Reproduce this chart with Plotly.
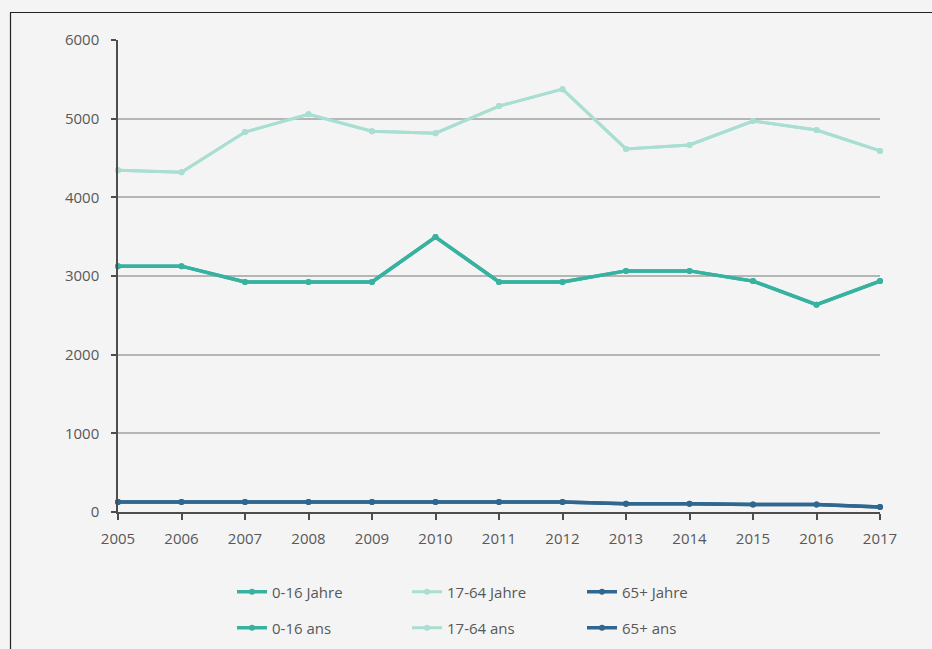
import plotly.graph_objects as go

years = list(range(2005, 2018))

age_0_16 = [3125, 3125, 2925, 2925, 2925, 3495, 2925, 2925, 3065, 3065, 2935, 2635, 2935]
age_17_64 = [4345, 4320, 4830, 5055, 4840, 4815, 5160, 5375, 4615, 4665, 4970, 4855, 4590]
age_65_plus = [128, 128, 128, 128, 128, 128, 128, 128, 106, 106, 94, 94, 64]

y_ticks = [0, 1000, 2000, 3000, 4000, 5000, 6000]

series = [
    ("0-16 Jahre", age_0_16, "#38b2a0", 3.5, "legend"),
    ("17-64 Jahre", age_17_64, "#a9ded2", 3, "legend"),
    ("65+ Jahre", age_65_plus, "#2f6790", 3.5, "legend"),
    ("0-16 ans", age_0_16, "#38b2a0", 3.5, "legend2"),
    ("17-64 ans", age_17_64, "#a9ded2", 3, "legend2"),
    ("65+ ans", age_65_plus, "#2f6790", 3.5, "legend2"),
]

fig = go.Figure()
for name, vals, color, width, leg in series:
    fig.add_trace(go.Scatter(
        x=years, y=vals, name=name, mode="lines+markers",
        line=dict(color=color, width=width),
        marker=dict(color=color, size=6),
        cliponaxis=False, legend=leg,
    ))

W, H = 932, 649
ml, mr, mt, mb = 118, 52, 40, 137
pw, ph = W - ml - mr, H - mt - mb


def px_x(p):
    return (p - ml) / pw


def px_y(p):
    return (H - mb - p) / ph


text_color = "#585858"
font = dict(family="Open Sans, Noto Sans, sans-serif", size=15, color=text_color)

legend_common = dict(
    orientation="h", xref="container", yref="container",
    xanchor="left", x=232 / W, yanchor="middle",
    entrywidth=130, entrywidthmode="pixels", bgcolor="rgba(0,0,0,0)",
    font=dict(family="Open Sans, Noto Sans, sans-serif", size=15, color=text_color),
    itemclick=False,
)

fig.update_layout(
    width=W, height=H,
    margin=dict(l=ml, r=mr, t=mt, b=mb, autoexpand=False),
    paper_bgcolor="#f4f4f4", plot_bgcolor="#f4f4f4",
    font=font,
    showlegend=True,
    legend=dict(**legend_common, y=1 - 592 / H),
    legend2=dict(**legend_common, y=1 - 628 / H),
    xaxis=dict(
        range=[2005, 2017], tickmode="array", tickvals=years,
        ticktext=[str(y) for y in years],
        showgrid=False, zeroline=False,
        showline=True, linecolor="#4d4d4d", linewidth=1.5,
        ticks="outside", ticklen=6, tickwidth=1.5, tickcolor="#4d4d4d",
        ticklabelstandoff=6,
        tickfont=dict(size=15, color=text_color),
    ),
    yaxis=dict(
        range=[0, 6000], tickmode="array", tickvals=y_ticks,
        showgrid=True, gridcolor="#b5b5b5", gridwidth=1.5,
        zeroline=False,
        showline=True, linecolor="#4d4d4d", linewidth=1.5,
        ticks="outside", ticklen=5, tickwidth=1.5, tickcolor="#4d4d4d",
        ticklabelstandoff=9,
        tickfont=dict(size=15, color=text_color),
    ),
    shapes=[
        dict(type="line", xref="paper", yref="paper",
             x0=px_x(10), x1=px_x(W), y0=px_y(12.5), y1=px_y(12.5),
             line=dict(color="#222222", width=1.2)),
        dict(type="line", xref="paper", yref="paper",
             x0=px_x(10.5), x1=px_x(10.5), y0=px_y(12.5), y1=px_y(H),
             line=dict(color="#222222", width=1.2)),
    ],
)

fig.write_html("out.html")
